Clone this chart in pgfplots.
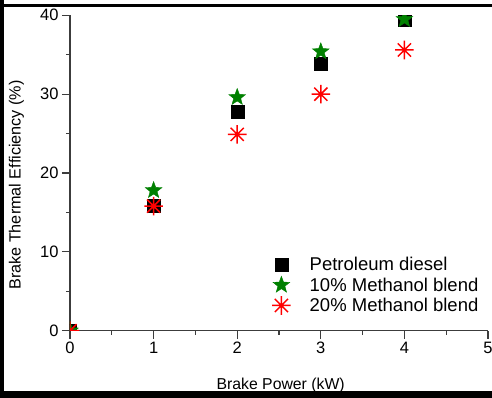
\documentclass[border=0pt]{standalone}
\usepackage{fontspec}
\setmainfont{Liberation Sans}
\usepackage{pgfplots}
\pgfplotsset{compat=1.18}
\definecolor{ogreen}{RGB}{0,128,0}
\definecolor{axgray}{RGB}{60,60,60}
\pgfdeclareplotmark{ast8}{%
  \pgfpathmoveto{\pgfqpoint{-\pgfplotmarksize}{0pt}}\pgfpathlineto{\pgfqpoint{\pgfplotmarksize}{0pt}}%
  \pgfpathmoveto{\pgfqpoint{0pt}{-\pgfplotmarksize}}\pgfpathlineto{\pgfqpoint{0pt}{\pgfplotmarksize}}%
  \pgfpathmoveto{\pgfqpoint{-.7071\pgfplotmarksize}{-.7071\pgfplotmarksize}}\pgfpathlineto{\pgfqpoint{.7071\pgfplotmarksize}{.7071\pgfplotmarksize}}%
  \pgfpathmoveto{\pgfqpoint{-.7071\pgfplotmarksize}{.7071\pgfplotmarksize}}\pgfpathlineto{\pgfqpoint{.7071\pgfplotmarksize}{-.7071\pgfplotmarksize}}%
  \pgfusepathqstroke}
\pgfdeclareplotmark{fstar}{%
  \pgfpathmoveto{\pgfqpointpolar{90}{\pgfplotmarksize}}%
  \pgfpathlineto{\pgfqpointpolar{126}{.42\pgfplotmarksize}}%
  \pgfpathlineto{\pgfqpointpolar{162}{\pgfplotmarksize}}%
  \pgfpathlineto{\pgfqpointpolar{198}{.42\pgfplotmarksize}}%
  \pgfpathlineto{\pgfqpointpolar{234}{\pgfplotmarksize}}%
  \pgfpathlineto{\pgfqpointpolar{270}{.42\pgfplotmarksize}}%
  \pgfpathlineto{\pgfqpointpolar{306}{\pgfplotmarksize}}%
  \pgfpathlineto{\pgfqpointpolar{342}{.42\pgfplotmarksize}}%
  \pgfpathlineto{\pgfqpointpolar{18}{\pgfplotmarksize}}%
  \pgfpathlineto{\pgfqpointpolar{54}{.42\pgfplotmarksize}}%
  \pgfpathclose\pgfusepathqfillstroke}
\begin{document}
\begin{tikzpicture}[x=1pt,y=1pt]
\useasboundingbox (-70,-67.3) rectangle (422,330.7);
\fill[black] (-70,-67.3) rectangle (422,-60.5);
\fill[black] (-70,-67.3) rectangle (-66,330.7);
\fill[black] (-70,323.7) rectangle (422,326.7);
\begin{axis}[
  at={(0pt,0pt)}, anchor=origin,
  scale only axis, width=418pt, height=315.4pt,
  xmin=0, xmax=5, ymin=0, ymax=40,
  axis lines*=left,
  axis line style={axgray, line width=1.2pt},
  xtick={0,1,2,3,4,5}, ytick={0,10,20,30,40},
  minor x tick num=1, minor y tick num=1,
  tick align=outside,
  major tick length=8pt, minor tick length=4pt,
  every tick/.style={axgray, line width=1.2pt},
  tick label style={font=\fontsize{16.5}{19}\selectfont},
  /pgf/number format/assume math mode=true,
  xlabel={Brake Power (kW)},
  ylabel={Brake Thermal Efficiency (\%)},
  xlabel style={at={(axis description cs:0.504,-0.172)}, anchor=center, font=\fontsize{15.8}{19}\selectfont},
  ylabel style={at={(axis description cs:-0.128,0.462)}, anchor=center, font=\fontsize{16.2}{19}\selectfont},
  clip marker paths=true,
  legend style={draw=none, fill=none, at={(axis description cs:0.483,0.24)}, anchor=north west,
    font=\fontsize{18.5}{21}\selectfont, inner sep=0pt, row sep=1.5pt, column sep=17pt},
  legend cell align=left,
]
\addplot[only marks, mark=square*, mark size=6.5pt, black] coordinates {(0,0) (1,15.9) (2,27.8) (3,33.8) (4,39.4)};
\addlegendentry{Petroleum diesel}
\addplot[only marks, mark=fstar, mark size=8.8pt, ogreen, fill=ogreen] coordinates {(0,0) (1,17.8) (2,29.6) (3,35.4) (4,39.5)};
\addlegendentry{10\% Methanol blend}
\addplot[only marks, mark=ast8, mark size=9.3pt, red, line width=1.5pt] coordinates {(0,0) (1,15.8) (2,24.9) (3,30.0) (4,35.6)};
\addlegendentry{20\% Methanol blend}
\end{axis}
\end{tikzpicture}
\end{document}
